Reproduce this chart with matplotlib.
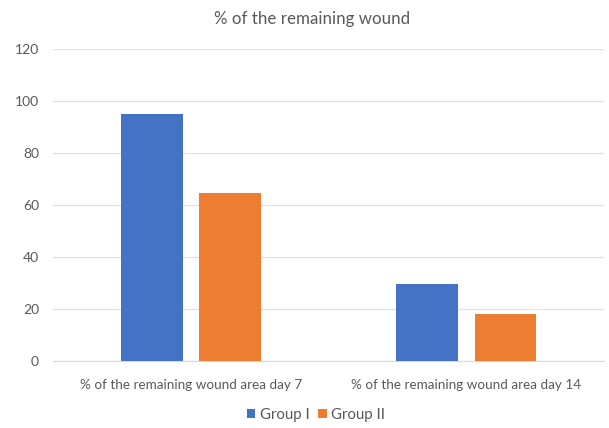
import matplotlib
matplotlib.use("Agg")
import matplotlib.pyplot as plt
import numpy as np

categories = ["% of the remaining wound area day 7", "% of the remaining wound area day 14"]
series_names = ["Group I", "Group II"]
group1 = [95.0, 29.5]
group2 = [64.8, 18.2]
yticks = [0, 20, 40, 60, 80, 100, 120]

colors = ["#4472C4", "#ED7D31"]
text_color = "#595959"
plt.rcParams['font.family'] = ['Lato', 'DejaVu Sans']

fig = plt.figure(figsize=(6.09, 4.28), dpi=100)
ax = fig.add_axes([0.087, 0.157, 0.905, 0.728])

x = np.arange(len(categories))
w = 0.224
off = 0.142
ax.bar(x - off, group1, width=w, color=colors[0], label=series_names[0], zorder=3)
ax.bar(x + off, group2, width=w, color=colors[1], label=series_names[1], zorder=3)

ax.set_xlim(-0.5, 1.5)
ax.set_ylim(0, 120)
ax.set_yticks(yticks)
ax.set_yticklabels([str(v) for v in yticks])
ax.set_xticks(x)
ax.set_xticklabels(categories)
ax.grid(axis='y', color='#E3E3E3', linewidth=1, zorder=0)
for s in ['top', 'right', 'left']:
    ax.spines[s].set_visible(False)
ax.spines['bottom'].set_color('#D9D9D9')
ax.tick_params(axis='both', length=0, colors=text_color)
ax.tick_params(axis='x', pad=13, labelsize=9.7)
ax.tick_params(axis='y', pad=10, labelsize=10)

fig.text(0.512, 0.955, "% of the remaining wound", ha='center', va='center',
         fontsize=12.2, color=text_color)

ax.legend(loc='center', bbox_to_anchor=(0.477, -0.174), ncol=2, frameon=False,
          fontsize=10.8, labelcolor=text_color, handlelength=0.55, handleheight=0.55,
          handletextpad=0.3, columnspacing=0.6, borderpad=0.2)

fig.savefig("out.png", dpi=100, facecolor='white')
